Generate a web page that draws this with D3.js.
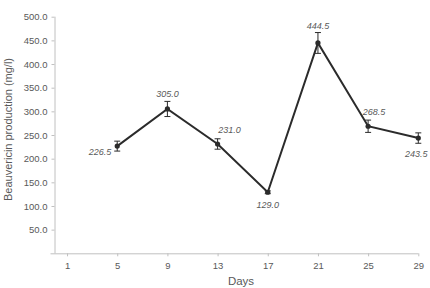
<!DOCTYPE html>
<html><head><meta charset="utf-8">
<script src="https://cdn.jsdelivr.net/npm/d3@7"></script>
<style>body{margin:0;background:#fff}svg{display:block;font-family:"Liberation Sans",Arial,sans-serif}</style>
</head><body><svg id="c" width="430" height="288"></svg>
<script>
const days = [5, 9, 13, 17, 21, 25, 29];
const values = [226.5, 305.0, 231.0, 129.0, 444.5, 268.5, 243.5];
const errors = [10.5, 16, 11, 3, 22, 13, 11];
const xTicks = [1, 5, 9, 13, 17, 21, 25, 29];
const yTicks = [50, 100, 150, 200, 250, 300, 350, 400, 450, 500];
// label offsets relative to points (dx, dy) and anchors
const labelDx = [-6, 0, 12, 0, 0, 6, -2];
const labelDy = [6, -15, -14, 13, -17, -14, 15.5];
const labelAnchor = ["end", "middle", "middle", "middle", "middle", "middle", "middle"];

const svg = d3.select("#c");
const x = d3.scaleLinear().domain([0, 29]).range([54.5, 418.3]);
const y = d3.scaleLinear().domain([0, 500]).range([253.3, 16.7]);

const axisColor = "#c0c0c0", textColor = "#595959";

// x axis
const xa = svg.append("g").attr("transform", `translate(0,${y(0)})`)
  .call(d3.axisBottom(x).tickValues(xTicks).tickSize(3).tickPadding(6).tickSizeOuter(0));
xa.select(".domain").attr("stroke", axisColor).attr("d", `M${x(0)-4},0.5H${x(29)}`);
xa.selectAll(".tick line").attr("stroke", axisColor);
xa.selectAll(".tick text").attr("fill", textColor).attr("font-size", "9.5px").attr("font-family", "Liberation Sans, Arial, sans-serif");

// y axis
const ya = svg.append("g").attr("transform", `translate(${x(0)},0)`)
  .call(d3.axisLeft(y).tickValues(yTicks).tickFormat(d3.format(".1f")).tickSize(3).tickPadding(4).tickSizeOuter(0));
ya.select(".domain").attr("stroke", axisColor).attr("d", `M0.5,${y(500)}V${y(0)}`);
ya.selectAll(".tick line").attr("stroke", axisColor);
ya.selectAll(".tick text").attr("fill", textColor).attr("font-size", "9.5px").attr("font-family", "Liberation Sans, Arial, sans-serif");

// axis titles
svg.append("text").attr("x", 241).attr("y", 285).attr("text-anchor", "middle")
  .attr("font-size", "11.5px").attr("fill", textColor).text("Days");
svg.append("text").attr("transform", "translate(12,129.5) rotate(-90)").attr("text-anchor", "middle")
  .attr("font-size", "11px").attr("fill", textColor).text("Beauvericin production (mg/l)");

const data = days.map((d, i) => ({d, v: values[i], e: errors[i], i}));

// line
svg.append("path").datum(data)
  .attr("fill", "none").attr("stroke", "#2b2b2b").attr("stroke-width", 2)
  .attr("d", d3.line().x(p => x(p.d)).y(p => y(p.v)));

// error bars
const eb = svg.append("g").attr("stroke", "#2b2b2b").attr("stroke-width", 1);
data.forEach(p => {
  const cx = x(p.d);
  eb.append("line").attr("x1", cx).attr("x2", cx).attr("y1", y(p.v - p.e)).attr("y2", y(p.v + p.e));
  eb.append("line").attr("x1", cx - 3).attr("x2", cx + 3).attr("y1", y(p.v + p.e)).attr("y2", y(p.v + p.e));
  eb.append("line").attr("x1", cx - 3).attr("x2", cx + 3).attr("y1", y(p.v - p.e)).attr("y2", y(p.v - p.e));
});

// markers
svg.append("g").selectAll("circle").data(data).join("circle")
  .attr("cx", p => x(p.d)).attr("cy", p => y(p.v)).attr("r", 2.6).attr("fill", "#2b2b2b");

// value labels
svg.append("g").selectAll("text").data(data).join("text")
  .attr("x", p => x(p.d) + labelDx[p.i]).attr("y", p => y(p.v) + labelDy[p.i])
  .attr("dy", "0.35em").attr("text-anchor", p => labelAnchor[p.i])
  .attr("font-size", "9px").attr("font-style", "italic").attr("fill", textColor)
  .text(p => p.v.toFixed(1));
</script></body></html>
